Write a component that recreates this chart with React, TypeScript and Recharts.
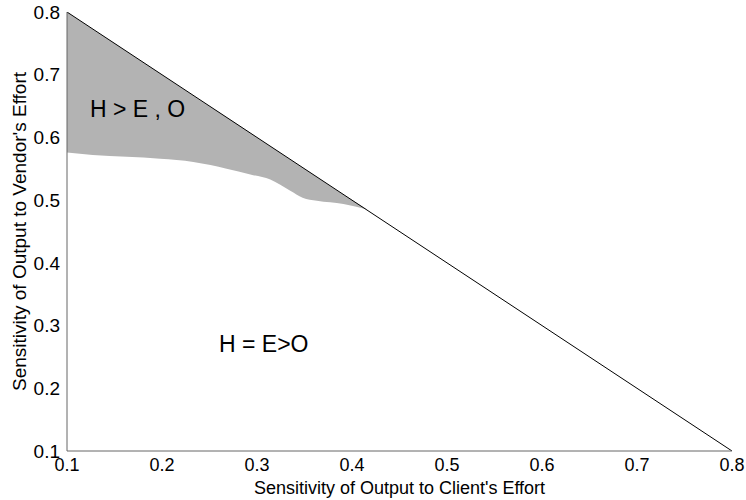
import { ComposedChart, Area, Line, XAxis, YAxis } from "recharts";

// lower edge of the shaded region
const bandX = [0.1, 0.127, 0.163, 0.198, 0.233, 0.251, 0.268, 0.293, 0.314, 0.335, 0.348, 0.363, 0.391, 0.416];
const bandLow = [0.576, 0.572, 0.569, 0.566, 0.561, 0.556, 0.55, 0.541, 0.533, 0.515, 0.504, 0.499, 0.494, 0.485];
const bandHigh = [0.8, 0.773, 0.737, 0.702, 0.667, 0.649, 0.632, 0.607, 0.586, 0.565, 0.552, 0.537, 0.509, 0.485];

const diagX = [0.1, 0.8];
const diagY = [0.8, 0.1];

const ticks = [0.1, 0.2, 0.3, 0.4, 0.5, 0.6, 0.7, 0.8];

const band = bandX.map((x, i) => ({ x, range: [bandLow[i], bandHigh[i]] }));
const diag = diagX.map((x, i) => ({ x, y: diagY[i] }));

const font = "Arial, 'Liberation Sans', sans-serif";

const note = (left: number, top: number) => ({
  position: "absolute" as const,
  left,
  top,
  fontFamily: font,
  fontSize: 23,
  lineHeight: "23px",
  color: "#000",
  whiteSpace: "pre" as const,
});

export default function App() {
  return (
    <div style={{ position: "absolute", left: 0, top: 0, width: 746, height: 500, background: "#fff" }}>
      <ComposedChart
        width={746}
        height={500}
        margin={{ top: 12, right: 14, left: 7, bottom: 9 }}
        style={{ fontFamily: font }}
      >
        <XAxis
          type="number"
          dataKey="x"
          domain={[0.1, 0.8]}
          ticks={ticks}
          allowDataOverflow
          tickLine={false}
          stroke="#666"
          height={40}
          tick={{ fontSize: 18, fill: "#000" }}
          tickMargin={1}
          label={{ value: "Sensitivity of Output to Client's Effort", position: "insideBottom", offset: -3, fill: "#000", fontSize: 18 }}
        />
        <YAxis
          type="number"
          domain={[0.1, 0.8]}
          ticks={ticks}
          allowDataOverflow
          tickLine={false}
          stroke="#666"
          width={60}
          tick={{ fontSize: 19, fill: "#000" }}
          tickMargin={1}
          label={{ value: "Sensitivity of Output to Vendor's Effort", angle: -90, position: "insideLeft", offset: 12, fill: "#000", fontSize: 19, style: { textAnchor: "middle" } }}
        />
        <Area
          data={band}
          dataKey="range"
          type="monotone"
          stroke="none"
          fill="#b3b3b3"
          fillOpacity={1}
          isAnimationActive={false}
        />
        <Line
          data={diag}
          dataKey="y"
          type="linear"
          stroke="#000"
          strokeWidth={1}
          dot={false}
          isAnimationActive={false}
        />
      </ComposedChart>
      <div style={note(90, 98)}>H &gt; E , O</div>
      <div style={note(219, 333)}>H = E&gt;O</div>
    </div>
  );
}
